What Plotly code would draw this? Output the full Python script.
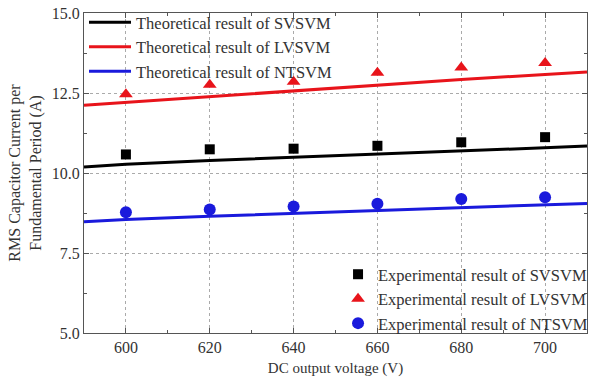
import plotly.graph_objects as go

# Experimental points
volt_exp = [600, 620, 640, 660, 680, 700]
exp_sv = [10.58, 10.74, 10.76, 10.85, 10.96, 11.12]
exp_lv = [12.46, 12.76, 12.85, 13.13, 13.30, 13.44]
exp_nt = [8.77, 8.86, 8.95, 9.04, 9.19, 9.24]

# Theoretical curves
volt_th = [590, 600, 620, 640, 660, 680, 700, 710]
th_sv = [10.19, 10.27, 10.39, 10.49, 10.60, 10.69, 10.78, 10.84]
th_lv = [12.12, 12.21, 12.40, 12.58, 12.75, 12.92, 13.08, 13.16]
th_nt = [8.48, 8.55, 8.65, 8.74, 8.83, 8.92, 9.00, 9.05]

x_ticks = [600, 620, 640, 660, 680, 700]
y_ticks = [5.0, 7.5, 10.0, 12.5, 15.0]
y_tick_text = ["5.0", "7.5", "10.0", "12.5", "15.0"]

FONT = "Times New Roman, Liberation Serif, DejaVu Serif, serif"

fig = go.Figure()
for name, y, c in [("Theoretical result of SVSVM", th_sv, "black"),
                   ("Theoretical result of LVSVM", th_lv, "#e8141b"),
                   ("Theoretical result of NTSVM", th_nt, "#1a1adc")]:
    fig.add_trace(go.Scatter(x=volt_th, y=y, mode="lines", name=name,
                             line=dict(color=c, width=3), legend="legend"))

for name, y, c, sym, sz in [("Experimental result of SVSVM", exp_sv, "black", "square", 10),
                            ("Experimental result of LVSVM", exp_lv, "#e8141b", "triangle-up", 12),
                            ("Experimental result of NTSVM", exp_nt, "#1a1adc", "circle", 12)]:
    fig.add_trace(go.Scatter(x=volt_exp, y=y, mode="markers", name=name,
                             marker=dict(color=c, symbol=sym, size=sz), legend="legend2"))

axis_common = dict(showline=True, linecolor="#555", linewidth=1, mirror="allticks",
                   ticks="inside", ticklen=5, tickcolor="#555",
                   showgrid=True, gridcolor="#aaa", griddash="dot", gridwidth=1,
                   zeroline=False, tickfont=dict(family=FONT, size=16, color="#333"))

fig.update_xaxes(range=[590, 710], tickvals=x_ticks,
                 minor=dict(ticks="inside", ticklen=3, dtick=10, tick0=590, tickcolor="#555", showgrid=False),
                 title=dict(text="DC output voltage (V)", font=dict(family=FONT, size=15, color="#333"), standoff=8),
                 **axis_common)
fig.update_yaxes(range=[5, 15], tickvals=y_ticks, ticktext=y_tick_text,
                 minor=dict(ticks="inside", ticklen=3, dtick=1.25, tick0=5, tickcolor="#555", showgrid=False),
                 title=dict(text="RMS Capacitor Current per<br>Fundamental Period (A)",
                            font=dict(family=FONT, size=16, color="#333"), standoff=6),
                 **axis_common)

fig.update_layout(
    width=592, height=377,
    margin=dict(l=84, r=5, t=13, b=44, autoexpand=False),
    paper_bgcolor="white", plot_bgcolor="white",
    font=dict(family=FONT, color="#333"),
    legend=dict(x=0.0, y=1.025, xanchor="left", yanchor="top", bgcolor="rgba(0,0,0,0)",
                font=dict(family=FONT, size=16.5, color="#333"), itemwidth=42,
                tracegroupgap=0),
    legend2=dict(x=1.012, y=-0.025, xanchor="right", yanchor="bottom", bgcolor="rgba(0,0,0,0)",
                 font=dict(family=FONT, size=16.5, color="#333"), tracegroupgap=0),
)

fig.write_html("out.html", post_script="document.body.style.margin='0';",
               config={"displayModeBar": False})
